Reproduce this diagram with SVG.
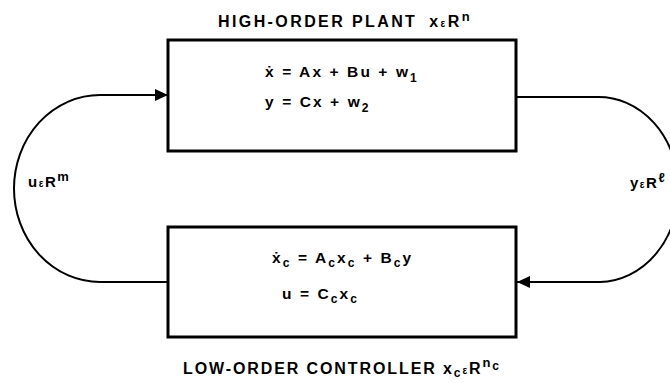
<svg xmlns="http://www.w3.org/2000/svg" width="670" height="383" viewBox="0 0 670 383">
  <defs>
    <style>
      .box { fill: #fff; stroke: #000; stroke-width: 3; }
      .wire { fill: none; stroke: #000; stroke-width: 2; }
      .title { font-family: "Liberation Sans", Arial, sans-serif; font-weight: bold; font-size: 16px; letter-spacing: 2.4px; fill: #000; }
      .eq { font-family: "Liberation Sans", Arial, sans-serif; font-weight: bold; font-size: 15.5px; letter-spacing: 2.1px; fill: #000; }
      .lbl { font-family: "Liberation Sans", Arial, sans-serif; font-weight: bold; font-size: 15px; letter-spacing: 1.5px; fill: #000; }
      .sub { font-size: 12px; }
      .sup { font-size: 13px; }
      .eps { font-size: 10px; }
    </style>
    <marker id="arrow" markerWidth="13" markerHeight="12" refX="13" refY="6" orient="auto" markerUnits="userSpaceOnUse">
      <path d="M0,0 L13,6 L0,12 Z" fill="#000"/>
    </marker>
  </defs>

  <rect width="670" height="383" fill="#fff"/>

  <!-- feedback connectors -->
  <g id="connectors">
    <!-- u: controller output back to plant input -->
    <path class="wire" d="M168,282 H100 A86,93.5 0 0 1 100,95 H168" marker-end="url(#arrow)"/>
    <!-- y: plant output to controller input -->
    <path class="wire" d="M516,97 H597 A80,92.5 0 0 1 600,282 H517" marker-end="url(#arrow)"/>
  </g>

  <g id="plant">
    <rect class="box" x="168" y="40" width="348" height="111"/>
    <text class="title" x="218" y="27">HIGH-ORDER PLANT<tspan dx="12">x</tspan><tspan class="eps">ε</tspan>R<tspan class="sup" dy="-6">n</tspan></text>
    <text class="eq" x="265" y="77">ẋ = Ax + Bu + w<tspan class="sub" dy="5">1</tspan></text>
    <text class="eq" x="265" y="107">y = Cx + w<tspan class="sub" dy="5">2</tspan></text>
  </g>

  <g id="controller">
    <rect class="box" x="168" y="227" width="348" height="110"/>
    <text class="eq" x="272" y="263">ẋ<tspan class="sub" dy="4">c</tspan><tspan dy="-4"> = A</tspan><tspan class="sub" dy="4">c</tspan><tspan dy="-4">x</tspan><tspan class="sub" dy="4">c</tspan><tspan dy="-4"> + B</tspan><tspan class="sub" dy="4">c</tspan><tspan dy="-4">y</tspan></text>
    <text class="eq" x="282" y="299">u = C<tspan class="sub" dy="4">c</tspan><tspan dy="-4">x</tspan><tspan class="sub" dy="4">c</tspan></text>
    <text class="title" x="183" y="374" style="letter-spacing:1.9px">LOW-ORDER CONTROLLER x<tspan class="sub" dy="3">c</tspan><tspan class="eps" dy="-3">ε</tspan>R<tspan class="sup" dy="-7">n</tspan><tspan class="sub" dy="3">c</tspan></text>
  </g>

  <g id="label-u">
    <text class="lbl" x="28" y="187">u<tspan class="eps">ε</tspan>R<tspan class="sup" dy="-6">m</tspan></text>
  </g>
  <g id="label-y">
    <text class="lbl" x="630" y="188">y<tspan class="eps">ε</tspan>R<tspan class="sup" dy="-6">ℓ</tspan></text>
  </g>
</svg>
